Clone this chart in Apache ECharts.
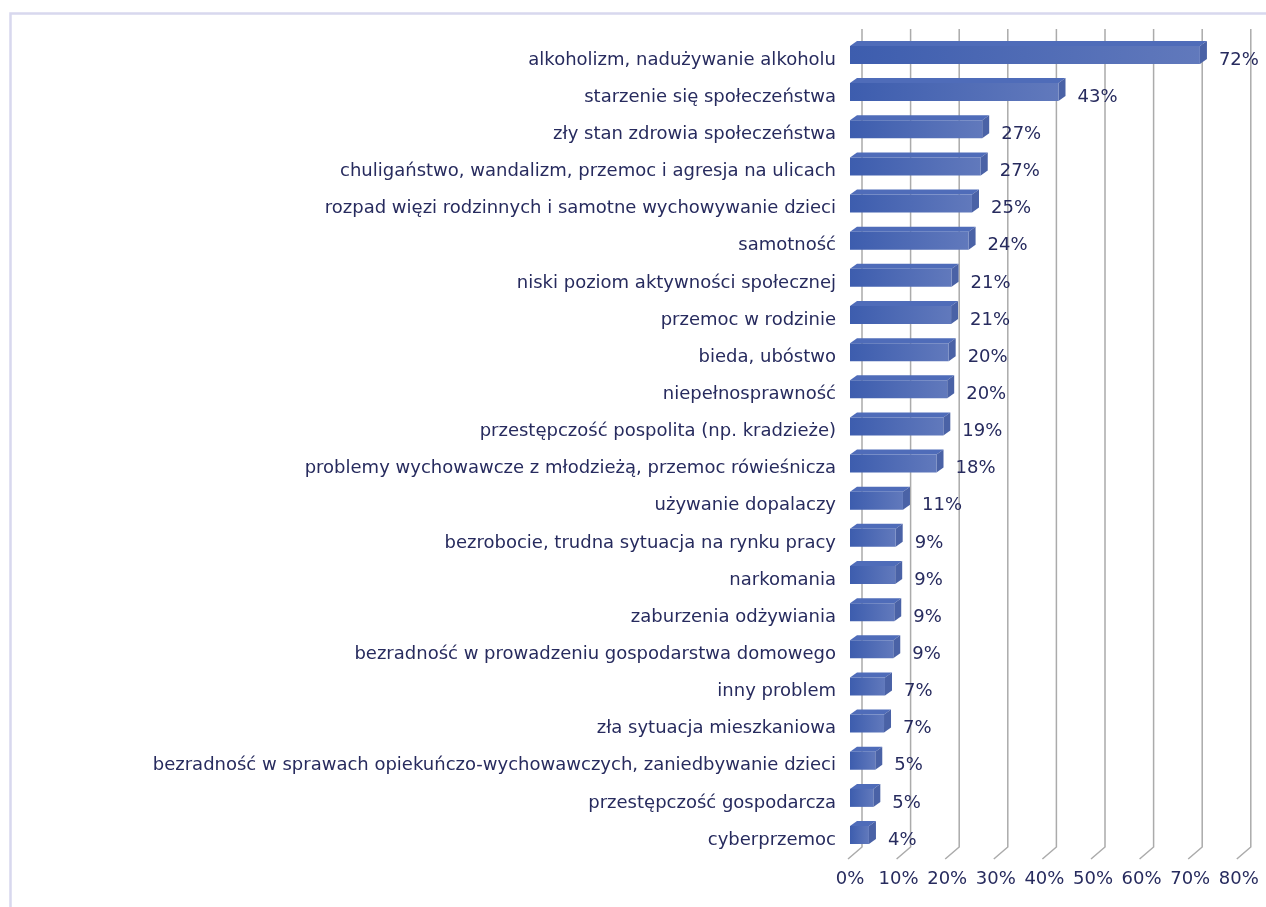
<!DOCTYPE html>
<html><head><meta charset="utf-8">
<script src="https://cdn.jsdelivr.net/npm/echarts@6/dist/echarts.min.js"></script>
<style>html,body{margin:0;padding:0;background:#fff}#c{width:1266px;height:907px}</style>
</head><body><div id="c"></div>
<script>
const categories = [
  "alkoholizm, nadużywanie alkoholu",
  "starzenie się społeczeństwa",
  "zły stan zdrowia społeczeństwa",
  "chuligaństwo, wandalizm, przemoc i agresja na ulicach",
  "rozpad więzi rodzinnych i samotne wychowywanie dzieci",
  "samotność",
  "niski poziom aktywności społecznej",
  "przemoc w rodzinie",
  "bieda, ubóstwo",
  "niepełnosprawność",
  "przestępczość pospolita (np. kradzieże)",
  "problemy wychowawcze z młodzieżą, przemoc rówieśnicza",
  "używanie dopalaczy",
  "bezrobocie, trudna sytuacja na rynku pracy",
  "narkomania",
  "zaburzenia odżywiania",
  "bezradność w prowadzeniu gospodarstwa domowego",
  "inny problem",
  "zła sytuacja mieszkaniowa",
  "bezradność w sprawach opiekuńczo-wychowawczych, zaniedbywanie dzieci",
  "przestępczość gospodarcza",
  "cyberprzemoc"
];
const values = [0.720, 0.429, 0.272, 0.269, 0.251, 0.244, 0.209, 0.208, 0.203, 0.200, 0.192, 0.178, 0.109, 0.094, 0.093, 0.091, 0.089, 0.072, 0.070, 0.052, 0.048, 0.039];
const xTicks = [0, 0.1, 0.2, 0.3, 0.4, 0.5, 0.6, 0.7, 0.8];

const TXT = '#272b5e';
const FONT = 'DejaVu Sans';
const FS = 18;
const DX = 7, DY = -5, BH = 18, BAR_UP = 5;
const WALL_DX = 12;

const chart = echarts.init(document.getElementById('c'), null, {renderer: 'canvas'});
const option = {
  animation: false,
  backgroundColor: '#ffffff',
  graphic: [{
    type: 'rect', left: 8, top: 11, z: -10,
    shape: {x: 0, y: 0, width: 1300, height: 1000},
    style: {fill: 'none', stroke: '#d8d8ee', lineWidth: 2.5}
  }],
  grid: {left: 850, right: 27.2, top: 41.4, bottom: 48.4, containLabel: false},
  xAxis: {
    type: 'value', min: 0, max: 0.8, interval: 0.1,
    axisLine: {show: false}, axisTick: {show: false}, splitLine: {show: false},
    axisLabel: {
      color: TXT, fontFamily: FONT, fontSize: FS, margin: 12,
      formatter: v => Math.round(v * 100) + '%'
    }
  },
  yAxis: {
    type: 'category', data: categories, inverse: true,
    axisLine: {show: false}, axisTick: {show: false}, splitLine: {show: false},
    axisLabel: {color: TXT, fontFamily: FONT, fontSize: FS, margin: 14}
  },
  series: [
    {
      type: 'custom', silent: true, clip: false, z: 1,
      data: xTicks.map(v => [v, 0]),
      renderItem: function (params, api) {
        const cs = params.coordSys;
        const x = api.coord([api.value(0), 0])[0] + WALL_DX;
        const top = cs.y - 12.4;
        const bot = cs.y + cs.height - 11.6;
        return {
          type: 'polyline',
          shape: {points: [[x, top], [x, bot], [x - 14, bot + 12]]},
          style: {stroke: '#ababab', lineWidth: 1.5, fill: null}
        };
      }
    },
    {
      type: 'custom', silent: true, clip: false, z: 2,
      data: values.map((v, i) => [v, i]),
      renderItem: function (params, api) {
        const v = api.value(0), idx = api.value(1);
        const p0 = api.coord([0, idx]);
        const p1 = api.coord([v, idx]);
        const x0 = p0[0], x1 = p1[0];
        const cy = p0[1] - BAR_UP;
        const t = cy - BH / 2, b = cy + BH / 2;
        return {
          type: 'group',
          children: [
            {
              type: 'polygon',
              shape: {points: [[x0, t], [x1, t], [x1 + DX, t + DY], [x0 + DX, t + DY]]},
              style: {fill: '#4f6cb9'}
            },
            {
              type: 'polygon',
              shape: {points: [[x1, t], [x1 + DX, t + DY], [x1 + DX, b + DY], [x1, b]]},
              style: {fill: '#4a62a6'}
            },
            {
              type: 'rect',
              shape: {x: x0, y: t, width: x1 - x0, height: BH},
              style: {
                fill: new echarts.graphic.LinearGradient(0, 0, 1, 0, [
                  {offset: 0, color: '#3d5dae'},
                  {offset: 1, color: '#6179bc'}
                ])
              }
            },
            {
              type: 'text',
              style: {
                x: x1 + DX + 12, y: p0[1],
                text: Math.round(v * 100) + '%',
                fill: TXT, font: FS + 'px "' + FONT + '"',
                align: 'left', verticalAlign: 'middle'
              }
            }
          ]
        };
      }
    }
  ]
};
chart.setOption(option);
</script>
</body></html>
